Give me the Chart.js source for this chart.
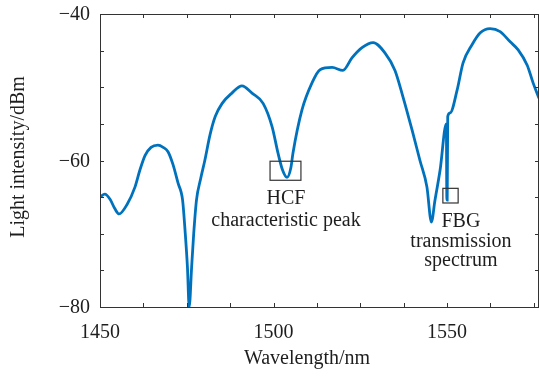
<!DOCTYPE html>
<html>
<head>
<meta charset="utf-8">
<script src="https://cdn.jsdelivr.net/npm/chart.js@4/dist/chart.umd.min.js"></script>
<style>
    html, body { margin: 0; padding: 0; background: #fff; }
    #spectrum { display: block; }
</style>
</head>
<body>
<canvas id="spectrum" width="540" height="376"></canvas>
<script>
// --- data ---
const WAVELENGTH = [
    1450.0, 1451.4, 1452.9, 1454.3, 1455.5, 1457.8, 1460.1, 1461.5, 1463.0, 1464.7,
    1466.7, 1468.2, 1469.6, 1471.0, 1472.5, 1473.8, 1474.5, 1475.2, 1475.7, 1476.4,
    1477.0, 1477.8, 1479.0, 1480.2, 1481.7, 1483.2, 1485.2, 1488.0, 1490.9, 1493.8,
    1497.0, 1499.6, 1501.3, 1502.6, 1503.9, 1505.0, 1505.6, 1508.2, 1511.1, 1513.4,
    1516.9, 1520.0, 1522.6, 1525.5, 1528.7, 1532.1, 1535.0, 1537.3, 1539.9, 1542.2,
    1544.2, 1545.5, 1546.5, 1548.0, 1549.8, 1549.95, 1550.05, 1550.2, 1550.9, 1552.9,
    1554.6, 1557.2, 1559.5, 1562.4, 1565.3, 1568.2, 1570.5, 1573.1, 1574.8, 1576.5
];
const INTENSITY = [
    -65.0, -64.6, -65.3, -66.6, -67.3, -66.0, -63.6, -61.3, -59.3, -58.2,
    -57.9, -58.2, -58.8, -60.5, -63.1, -65.4, -69.5, -74.6, -80.0, -74.6,
    -70.0, -65.4, -62.5, -60.0, -56.5, -54.0, -52.2, -50.8, -49.8, -50.8,
    -52.2, -55.4, -59.0, -61.3, -62.3, -61.0, -59.0, -53.1, -49.4, -47.6,
    -47.3, -47.7, -46.0, -44.6, -43.9, -45.3, -47.7, -51.3, -55.8, -60.0,
    -63.6, -68.4, -65.5, -61.3, -55.0, -65.4, -65.4, -54.0, -53.5, -50.4,
    -46.7, -44.2, -42.6, -42.0, -42.4, -43.8, -44.9, -47.0, -49.4, -51.5
];
const X_TICKS = [1450, 1500, 1550];
const X_MINOR = [1462.5, 1475, 1487.5, 1512.5, 1525, 1537.5, 1562.5, 1575];
const Y_TICKS = [-80, -60, -40];
const Y_MINOR = [-75, -70, -65, -55, -50, -45];

// --- annotations (data units) ---
const BOXES = [
    { x0: 1499.0, x1: 1507.9, y0: -60.1, y1: -62.7 },
    { x0: 1548.8, x1: 1553.2, y0: -63.8, y1: -65.8 }
];
const NOTES = [
    { x: 1503.6, y: -66.0, text: 'HCF' },
    { x: 1503.6, y: -69.0, text: 'characteristic peak' },
    { x: 1554.0, y: -69.1, text: 'FBG' },
    { x: 1554.0, y: -71.8, text: 'transmission' },
    { x: 1554.0, y: -74.4, text: 'spectrum' }
];

const SERIF = '"Liberation Serif", "Times New Roman", serif';
const INK = '#1e1e1e';

const frame = {
    id: 'frame',
    afterDraw(chart) {
        const c = chart.ctx, a = chart.chartArea;
        const xs = chart.scales.x, ys = chart.scales.y;
        c.save();
        c.strokeStyle = '#333';
        c.lineWidth = 1;
        c.strokeRect(a.left + 0.5, a.top + 0.5, a.right - a.left - 1, a.bottom - a.top);

        // inward ticks on all four sides
        const tl = 4;
        c.beginPath();
        X_TICKS.concat(X_MINOR).forEach(v => {
            const px = Math.round(xs.getPixelForValue(v)) + 0.5;
            c.moveTo(px, a.bottom); c.lineTo(px, a.bottom - tl);
            c.moveTo(px, a.top); c.lineTo(px, a.top + tl);
        });
        Y_TICKS.concat(Y_MINOR).forEach(v => {
            const py = Math.round(ys.getPixelForValue(v)) + 0.5;
            c.moveTo(a.left, py); c.lineTo(a.left + tl, py);
            c.moveTo(a.right, py); c.lineTo(a.right - tl, py);
        });
        c.stroke();

        // tick labels
        c.fillStyle = INK;
        c.font = '20px ' + SERIF;
        c.textAlign = 'right';
        c.textBaseline = 'middle';
        Y_TICKS.forEach(v => c.fillText('\u2212' + Math.abs(v), a.left - 10, ys.getPixelForValue(v) + 1));
        c.textAlign = 'center';
        c.textBaseline = 'alphabetic';
        X_TICKS.forEach(v => c.fillText(String(v), xs.getPixelForValue(v), a.bottom + 31));

        // axis titles
        c.fillText('Wavelength/nm', 307, a.bottom + 57);
        c.save();
        c.translate(24, 157);
        c.rotate(-Math.PI / 2);
        c.fillText('Light intensity/dBm', 0, 0);
        c.restore();

        // boxes and notes
        c.strokeStyle = '#333';
        c.lineWidth = 1.2;
        BOXES.forEach(b => {
            const x0 = xs.getPixelForValue(b.x0), x1 = xs.getPixelForValue(b.x1);
            const y0 = ys.getPixelForValue(b.y0), y1 = ys.getPixelForValue(b.y1);
            c.strokeRect(x0, y0, x1 - x0, y1 - y0);
        });
        NOTES.forEach(n => c.fillText(n.text, xs.getPixelForValue(n.x), ys.getPixelForValue(n.y)));
        c.restore();
    }
};

new Chart(document.getElementById('spectrum'), {
    type: 'line',
    data: {
        datasets: [{
            data: WAVELENGTH.map((w, i) => ({ x: w, y: INTENSITY[i] })),
            borderColor: '#0072BD',
            borderWidth: 2.8,
            pointRadius: 0,
            cubicInterpolationMode: 'monotone',
            fill: false
        }]
    },
    options: {
        responsive: false,
        devicePixelRatio: 1,
        animation: false,
        layout: { padding: { left: 100, top: 14, right: 1, bottom: 69 } },
        plugins: { legend: { display: false }, tooltip: { enabled: false } },
        scales: {
            x: { type: 'linear', min: 1450, max: 1576.5, display: false },
            y: { type: 'linear', min: -80, max: -40, display: false }
        }
    },
    plugins: [frame]
});
</script>
</body>
</html>
